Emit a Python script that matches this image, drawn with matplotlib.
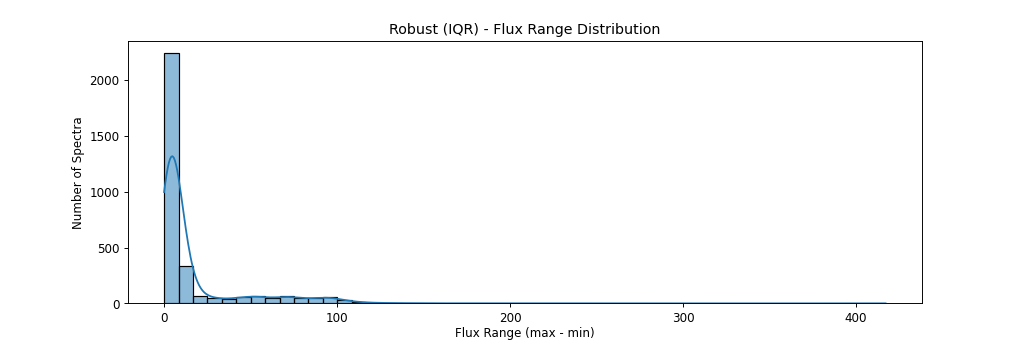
import matplotlib
matplotlib.use('Agg')
import matplotlib.pyplot as plt
import seaborn as sns
import numpy as np
import pandas as pd

# ===== Dados =====
x_min = 0.0
x_max = 417.0
n_bins = 50
contagens = [
    2240, 335, 70, 48, 38, 60, 66, 45, 68, 45,
    46, 60, 27, 12, 6, 4, 3, 2, 1, 1,
    1, 0, 1, 0, 0, 1, 0, 0, 0, 0,
    0, 0, 0, 0, 0, 0, 0, 0, 0, 0,
    0, 0, 0, 0, 0, 0, 0, 0, 0, 1
]
largura_kde = 6.0

bordas = np.linspace(x_min, x_max, n_bins + 1)
centros = (bordas[:-1] + bordas[1:]) / 2
df = pd.DataFrame({'centro': centros, 'contagem': np.array(contagens, dtype=float)})

# ===== Histograma =====
fig, ax = plt.subplots(figsize=(12, 4), dpi=1024 / 12)
sns.histplot(data=df, x='centro', weights='contagem', bins=n_bins,
             binrange=(x_min, x_max), alpha=0.5, ax=ax)

# ===== KDE (escala de contagem) =====
grade = np.linspace(x_min, x_max, 600)
largura_bin = bordas[1] - bordas[0]
dens = np.zeros_like(grade)
for c, w in zip(df['centro'], df['contagem']):
    dens += w * np.exp(-0.5 * ((grade - c) / largura_kde) ** 2)
dens = dens / (largura_kde * np.sqrt(2 * np.pi)) * largura_bin
ax.plot(grade, dens, color='C0', linewidth=1.5)

ax.set_xlabel('Flux Range (max - min)', labelpad=2)
ax.set_ylabel('Number of Spectra')
ax.set_title('Robust (IQR) - Flux Range Distribution')
fig.savefig('out.png', dpi=1024 / 12)
